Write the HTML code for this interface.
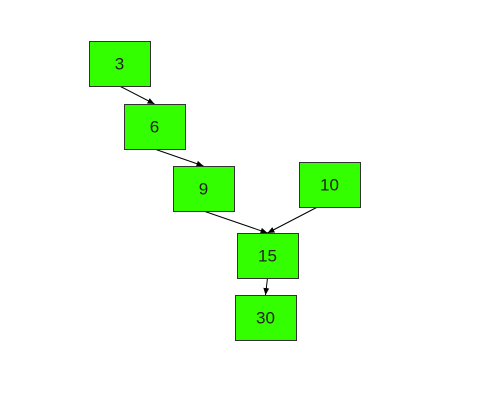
<!DOCTYPE html>
<html><head><style>
body{margin:0;background:#fff;width:500px;height:400px;overflow:hidden}
text{font-family:"Liberation Sans",sans-serif;font-size:17px}
</style></head><body>
<svg width="500" height="400">
<defs><marker id="ah" markerWidth="8" markerHeight="8" refX="7" refY="3" orient="auto" markerUnits="userSpaceOnUse"><path d="M0,0 L7,3 L0,6 Z" fill="#000"/></marker></defs>
<g id="edges"></g><g id="nodes"></g>
</svg>
<script>
const labels=["3","6","9","10","15","30"];
const nodeX=[89,124,173,299,237,235];
const nodeY=[41,104,166,162,233,295];
const edgeFrom=[0,1,2,3,4];
const edgeTo=[1,2,4,4,5];
const W=61,H=45,NS="http://www.w3.org/2000/svg";
const ng=document.getElementById('nodes'),eg=document.getElementById('edges');
edgeFrom.forEach((f,i)=>{const t=edgeTo[i];
 const l=document.createElementNS(NS,'line');
 
 
 const sx=nodeX[f]+W/2+(nodeX[t]<nodeX[f]-20?-12:0);
 l.setAttribute('x1',sx);l.setAttribute('y1',nodeY[f]+H);
 l.setAttribute('x2',nodeX[t]+W/2);l.setAttribute('y2',nodeY[t]);
 l.setAttribute('stroke','#000');l.setAttribute('stroke-width','1');l.setAttribute('marker-end','url(#ah)');
 eg.appendChild(l);});
labels.forEach((lb,i)=>{
 const g=document.createElementNS(NS,'g');
 
 
 const r=document.createElementNS(NS,'rect');
 r.setAttribute('x',nodeX[i]+0.5);r.setAttribute('y',nodeY[i]+0.5);r.setAttribute('width',W);r.setAttribute('height',H);
 r.setAttribute('fill','#33ff00');r.setAttribute('stroke','#333');
 const t=document.createElementNS(NS,'text');
 t.setAttribute('x',nodeX[i]+W/2);t.setAttribute('y',nodeY[i]+H/2+6);t.setAttribute('text-anchor','middle');t.setAttribute('fill','#222');
 t.textContent=lb;
 g.appendChild(r);g.appendChild(t);ng.appendChild(g);});
</script>
</body></html>
